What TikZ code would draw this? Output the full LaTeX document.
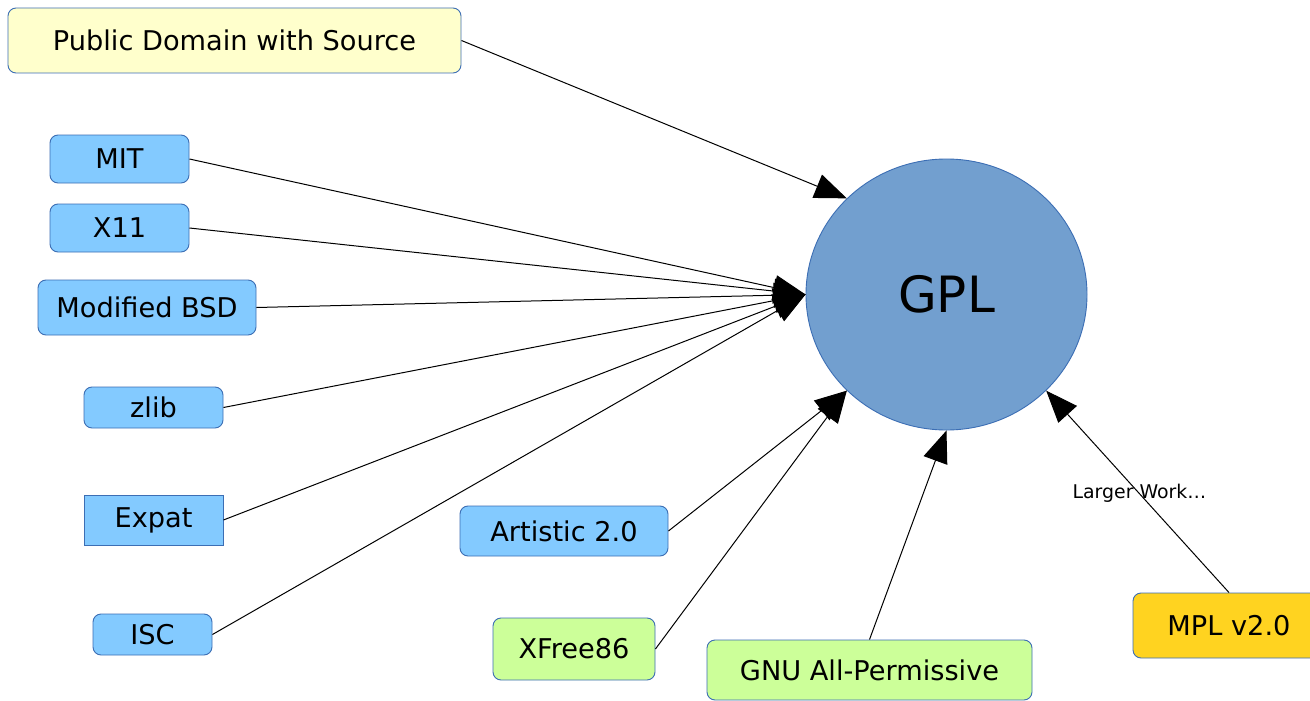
\documentclass[tikz,border=0pt]{standalone}
\usepackage{fontspec}
\setmainfont{DejaVu Sans}
\usetikzlibrary{arrows.meta,shapes.geometric}
\definecolor{edgeblue}{RGB}{60,110,180}
\definecolor{pdfill}{RGB}{255,255,204}
\definecolor{bluefill}{RGB}{131,202,255}
\definecolor{greenfill}{RGB}{204,255,153}
\definecolor{goldfill}{RGB}{255,211,32}
\definecolor{gplfill}{RGB}{114,159,207}
\tikzset{
  lic/.style={draw=edgeblue, line width=0.9pt, rounded corners=8pt, inner sep=0pt,
    font=\fontsize{27.2}{30}\selectfont, text=black},
  bluebox/.style={lic, fill=bluefill},
  greenbox/.style={lic, fill=greenfill},
  conn/.style={draw=black, line width=1pt, -{Triangle[length=32pt,width=25pt]}},
}
\begin{document}
\begin{tikzpicture}[x=1pt,y=-1pt]
\clip (0,0) rectangle (1310,701);
\fill[white] (0,0) rectangle (1310,701);
\node[draw=edgeblue, line width=0.9pt, fill=gplfill, ellipse, minimum width=281pt, minimum height=271pt, inner sep=0pt,
  font=\fontsize{50}{56}\selectfont] (gpl) at (946.5,294.5) {GPL};
\node[lic, fill=pdfill, minimum width=453pt, minimum height=65pt] (pd) at (234.5,40.5) {Public Domain with Source};
\node[bluebox, minimum width=139pt, minimum height=48pt] (mit) at (119.5,159) {MIT};
\node[bluebox, minimum width=139pt, minimum height=48pt] (x11) at (119.5,228) {X11};
\node[bluebox, minimum width=218pt, minimum height=55pt] (bsd) at (147,307.5) {Modified BSD};
\node[bluebox, minimum width=139pt, minimum height=41pt] (zlib) at (153.5,407.5) {zlib};
\node[bluebox, sharp corners, minimum width=139pt, minimum height=50pt] (expat) at (153.5,520) {Expat};
\node[bluebox, minimum width=119pt, minimum height=41pt] (isc) at (152.5,634.5) {ISC};
\node[bluebox, minimum width=208pt, minimum height=50pt] (art) at (564,531) {Artistic 2.0};
\node[greenbox, minimum width=162pt, minimum height=62pt] (xf) at (574,649) {XFree86};
\node[greenbox, minimum width=325pt, minimum height=60pt] (gnu) at (869.5,670) {GNU All-Permissive};
\node[lic, fill=goldfill, minimum width=192pt, minimum height=65pt] (mpl) at (1229,625.5) {MPL v2.0};
\path[conn] (pd.east) -- (gpl.north west);
\path[conn] (mit.east) -- (gpl.west);
\path[conn] (x11.east) -- (gpl.west);
\path[conn] (bsd.east) -- (gpl.west);
\path[conn] (zlib.east) -- (gpl.west);
\path[conn] (expat.east) -- (gpl.west);
\path[conn] (isc.east) -- (gpl.west);
\path[conn] (art.east) -- (gpl.south west);
\path[conn] (xf.east) -- (gpl.south west);
\path[conn] (gnu.north) -- (gpl.south);
\path[conn] (mpl.north) -- node[pos=0.49, font=\fontsize{18.9}{22}\selectfont, inner sep=0pt] (lw) {Larger Work…} (gpl.south east);
\end{tikzpicture}
\end{document}
